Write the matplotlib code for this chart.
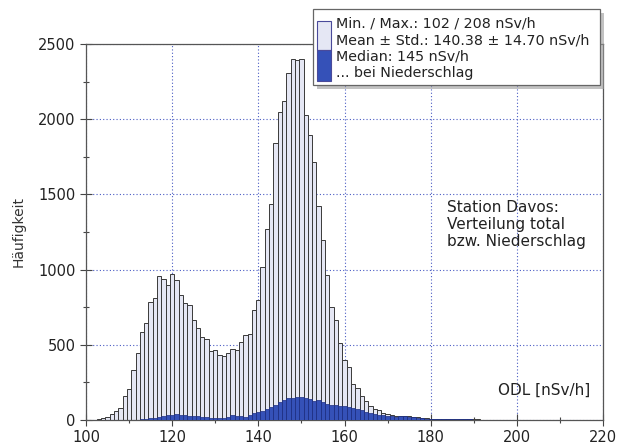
import numpy as np
import matplotlib
matplotlib.use("Agg")
import matplotlib.pyplot as plt
from matplotlib.patches import Rectangle
from matplotlib.ticker import MultipleLocator

# ODL classes (nSv/h), one bar per 1 nSv/h
odl = list(range(102, 209))

# total counts per class
total = [3, 5, 10, 20, 38, 62, 78, 160, 208, 332,            # 102-111
         448, 587, 643, 787, 809, 957, 937, 898, 971, 933,    # 112-121
         831, 781, 762, 665, 615, 550, 537, 460, 465, 435,    # 122-131
         426, 446, 475, 465, 518, 563, 570, 729, 800, 1020,   # 132-141
         1268, 1435, 1845, 2045, 2121, 2305, 2400, 2394, 2400, 2030,  # 142-151
         1895, 1718, 1420, 1199, 966, 754, 665, 510, 397, 355,  # 152-161
         240, 212, 160, 128, 93, 75, 66, 49, 40, 33,           # 162-171
         29, 27, 29, 24, 20, 18, 13, 11, 9, 8,                 # 172-181
         8, 7, 8, 9, 8, 6, 5, 5, 4, 4,                         # 182-191
         3, 3, 2, 2, 2, 1, 1, 1, 1, 1,                         # 192-201
         1, 1, 0, 1, 0, 0, 1]                                  # 202-208

# counts during precipitation
rain = [0, 0, 0, 0, 0, 1, 1, 1, 2, 2,                         # 102-111
        3, 4, 6, 10, 14, 20, 26, 33, 30, 38,                  # 112-121
        32, 30, 28, 28, 25, 22, 18, 13, 11, 11,               # 122-131
        15, 22, 30, 27, 26, 22, 33, 44, 52, 60,               # 132-141
        74, 85, 102, 117, 132, 145, 146, 152, 155, 145,       # 142-151
        138, 128, 131, 120, 106, 100, 98, 96, 92, 85,         # 152-161
        78, 72, 66, 55, 44, 38, 33, 30, 27, 24,               # 162-171
        22, 25, 27, 22, 18, 14, 11, 9, 7, 6,                  # 172-181
        5, 6, 7, 8, 6, 5, 4, 4, 3, 3,                         # 182-191
        2, 2, 1, 1, 1, 0, 0, 0, 0, 0,                         # 192-201
        0, 0, 0, 0, 0, 0, 0]                                  # 202-208

legend_lines = ["Min. / Max.: 102 / 208 nSv/h",
                "Mean \u00b1 Std.: 140.38 \u00b1 14.70 nSv/h",
                "Median: 145 nSv/h",
                "... bei Niederschlag"]

light = "#e5e7f4"
blue = "#3551b8"
gridblue = "#4a5cc4"

plt.rcParams['font.family'] = ['DejaVu Sans']

fig = plt.figure(figsize=(6.2, 4.48), dpi=100)
ax = fig.add_axes([0.1387, 0.0625, 0.9726 - 0.1387, 0.9018 - 0.0625])

ax.bar(odl, total, width=1.0, color=light, edgecolor="#3a3a3a", linewidth=0.7, zorder=2)
ax.bar(odl, rain, width=1.0, color=blue, edgecolor="#1d2d80", linewidth=0.5, zorder=3)

ax.set_xlim(100, 220)
ax.set_ylim(0, 2500)
ax.xaxis.set_major_locator(MultipleLocator(20))
ax.xaxis.set_minor_locator(MultipleLocator(10))
ax.yaxis.set_major_locator(MultipleLocator(500))
ax.yaxis.set_minor_locator(MultipleLocator(250))
ax.tick_params(which="both", direction="inout", colors="#444444", labelcolor="#222222",
               labelsize=10.5)
ax.tick_params(which="major", length=8, width=0.8)
ax.tick_params(which="minor", length=5, width=0.8)
ax.grid(True, which="major", color=gridblue, linestyle=(0, (1, 2)), linewidth=0.8, zorder=1)
ax.set_axisbelow(True)
for s in ax.spines.values():
    s.set_color("#555555")
    s.set_linewidth(0.9)

ax.set_ylabel("H\u00e4ufigkeit", fontsize=10, color="#333333", labelpad=9)

ax.text(0.698, 0.585, "Station Davos:\nVerteilung total\nbzw. Niederschlag",
        transform=ax.transAxes, fontsize=11, color="#222222", va="top", ha="left",
        linespacing=1.15)
ax.text(0.975, 0.08, "ODL [nSv/h]", transform=ax.transAxes, fontsize=11,
        color="#222222", ha="right", va="center")

# legend box (drawn by hand: one split colour patch for four lines)
W, H = 620.0, 448.0
def fx(px):
    return px / W
def fy(py):
    return 1 - py / H

shadow = Rectangle((fx(317), fy(89)), fx(287), 76 / H, transform=fig.transFigure,
                   facecolor="#9a9a9a", edgecolor="none", alpha=0.6, zorder=9)
box = Rectangle((fx(313), fy(85)), fx(287), 76 / H, transform=fig.transFigure,
                facecolor="white", edgecolor="#666666", linewidth=0.9, zorder=10)
p_top = Rectangle((fx(317), fy(50)), fx(14), 28.5 / H, transform=fig.transFigure,
                  facecolor=light, edgecolor="#4a4a9a", linewidth=0.8, zorder=11)
p_bot = Rectangle((fx(317), fy(81.5)), fx(14), 31.5 / H, transform=fig.transFigure,
                  facecolor=blue, edgecolor="#4a4a9a", linewidth=0.8, zorder=11)
for p in (shadow, box, p_top, p_bot):
    fig.patches.append(p)

for i, line in enumerate(legend_lines):
    fig.text(fx(336), fy(23.5 + i * 16.5), line, fontsize=10.3, color="#222222",
             va="center", ha="left", zorder=12)

fig.savefig("out.png", dpi=100)
